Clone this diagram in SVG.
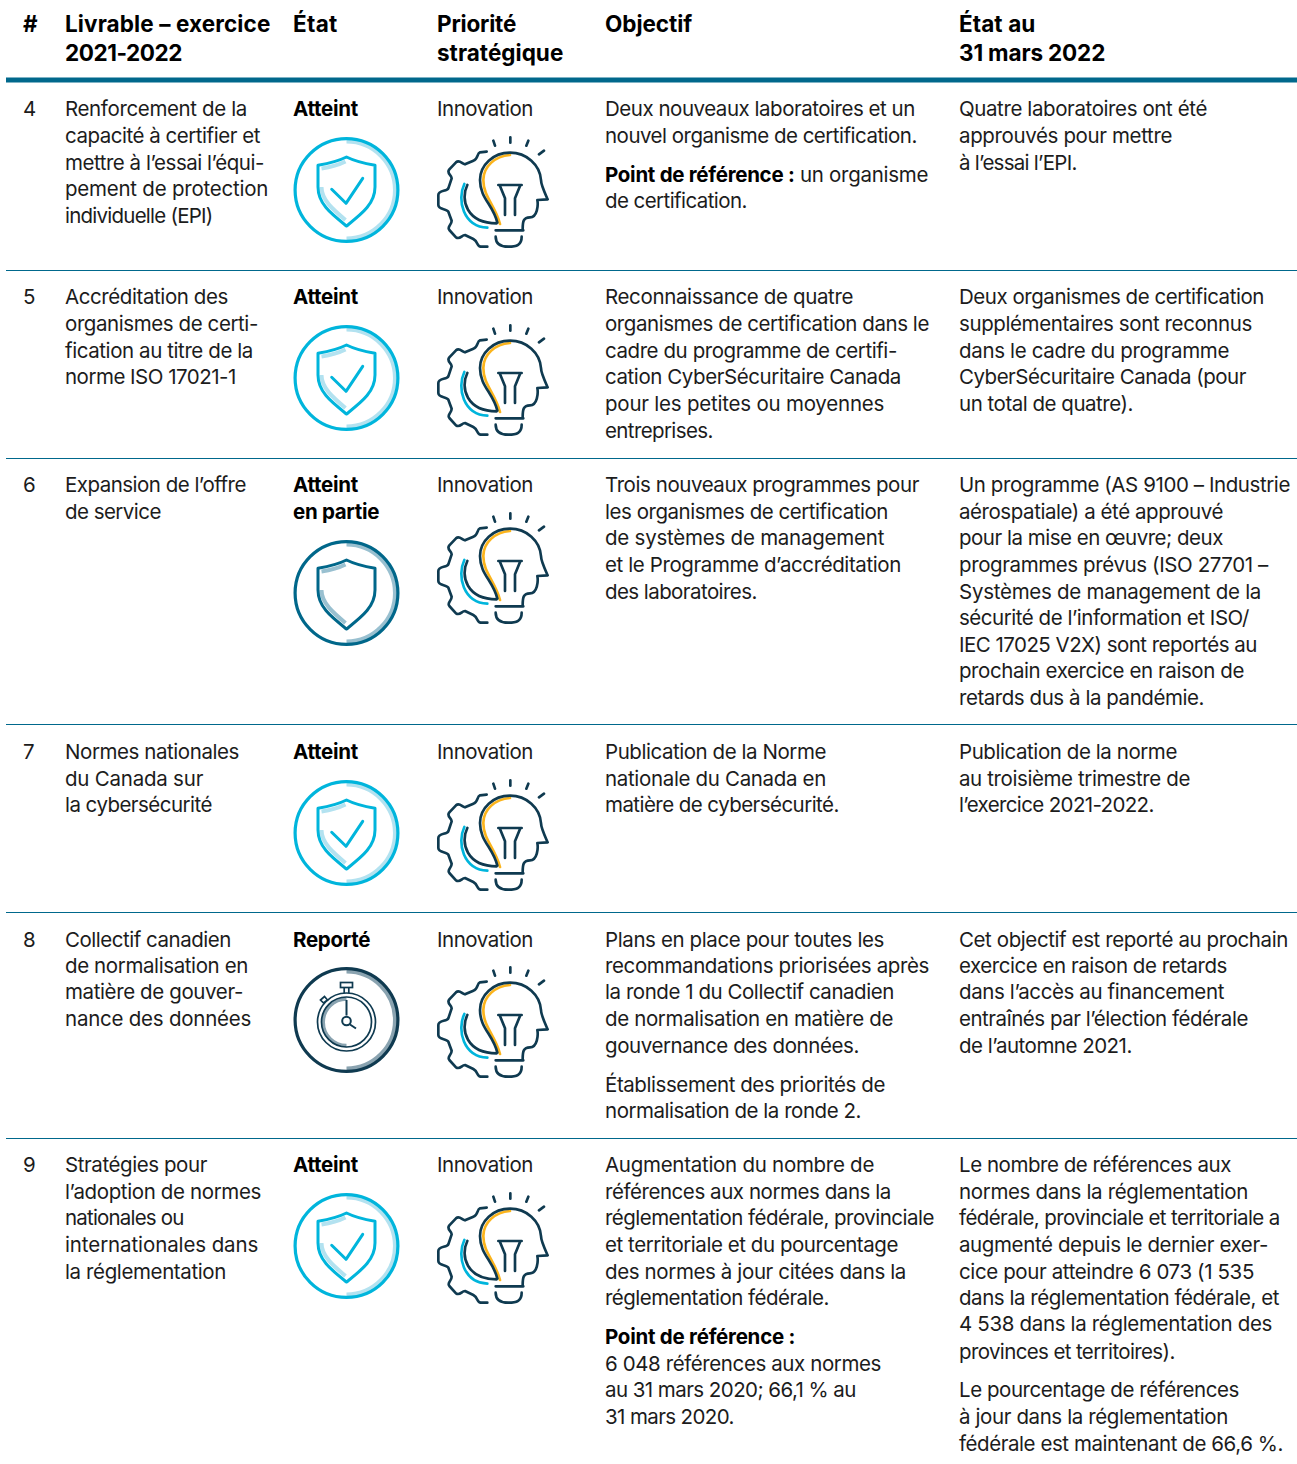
<svg xmlns="http://www.w3.org/2000/svg" width="1297" height="1464" viewBox="0 0 1297 1464">
<style>
text{font-family:Inter,"Liberation Sans",sans-serif;font-size:20.500px;letter-spacing:-.35px;fill:#1c1c1c}
.b{font-weight:700;fill:#000}
.h{font-weight:700;font-size:22.500px;fill:#000;letter-spacing:-.3px}
.rule{stroke:#00688c;stroke-width:1;fill:none}
.f{fill:none;stroke-linecap:round;stroke-linejoin:round}
.n{stroke:#0f3a50;stroke-width:8}
.o{stroke:#fbb41c;stroke-width:8}
.c{stroke:#00b5dc;stroke-width:8}
</style>
<defs>
<g id="ok" stroke="#00b5dc" fill="none">
<path d="M0-48.500A48.500 48.500 0 0 1 0 48.500" stroke="#b3e2f0" stroke-width="4"/>
<circle r="51.400" stroke-width="3.200"/>
<path d="M-25-21.500C-15-23-8-25-1-28.500M-25-3C-25 10-13 20-1 30" stroke="#b3e2f0" stroke-width="4"/>
<path class="f" d="M0-33C-9-28.500-18-26.500-28.500-24.700V-3C-28.500 14-15 24 0 36C15 24 28.500 14 28.500-3V-24.700C18-26.500 9-28.500 0-33Z" stroke-width="3"/>
<path class="f" d="M-14.800-.7L-.5 13.300L16.200-11.700" stroke-width="3"/>
</g>
<g id="partial" stroke="#00678a" fill="none">
<path d="M0-48.500A48.500 48.500 0 0 1 0 48.500" stroke="#99c0d0" stroke-width="4"/>
<circle r="51.400" stroke-width="3.200"/>
<path d="M-25-21.500C-15-23-8-25-1-28.500M-25-3C-25 10-13 20-1 30" stroke="#99c0d0" stroke-width="4"/>
<path class="f" d="M0-33C-9-28.500-18-26.500-28.500-24.700V-3C-28.500 14-15 24 0 36C15 24 28.500 14 28.500-3V-24.700C18-26.500 9-28.500 0-33Z" stroke-width="3"/>
</g>
<g id="watch" stroke="#0f3a50" fill="none">
<path d="M0-48.500A48.500 48.500 0 0 1 0 48.500" stroke="#8aa3b0" stroke-width="4"/>
<circle r="51.400" stroke-width="3.200"/>
<path d="M0 25.500A23 23 0 0 1 0-21" stroke="#8aa3b0" stroke-width="3.500"/>
<circle cy="2" r="29" stroke-width="1.700"/>
<circle cy="2" r="25" stroke-width="1.700"/>
<rect x="-6" y="-37.500" width="12" height="5" stroke-width="1.700"/>
<path d="M-2.300-32.500V-27M2.300-32.500V-27M-26-20L-22-23.500L-19-20L-23-17Z" stroke-width="1.700"/>
<path d="M0-20V-4.500M3.500 4.500L9.500 8.500" stroke-width="2"/>
<circle cy="1" r="4.300" stroke-width="2"/>
</g>
<g id="bulb" transform="scale(.33333)">
<path class="f o" d="M240 75C195 78 160 110 160 150C160 200 195 225 210 282"/>
<path class="f c" d="M103 162C80 210 100 290 172 293"/>
<path class="f n" d="M240 68C190 68 150 105 150 150C150 205 190 225 202 278M240 68C290 68 330 105 333 150C333 165 345 190 353 208L322 210C325 225 322 262 300 262C280 262 278 275 278 298M197 301H280M197 320C197 345 215 350 235 350C260 350 275 345 275 320M205 165H275M210 168L225 205V255M270 168L255 205V255M190 32L195 47M241 22V38M295 32L289 47M342 62L327 73M170 65L150 67C140 70 145 88 130 92L105 103C95 100 88 88 78 97L58 118C48 130 65 135 65 145L55 175C50 185 25 180 25 195V225C25 240 50 235 55 245L65 272C65 285 50 290 58 300L78 322C90 330 95 315 105 315L130 327C145 335 140 350 152 350H172M112 165C90 210 110 280 200 280"/>
</g>
</defs>
<rect width="1297" height="1464" fill="#fff"/>
<g id="header">
<text class="h" x="23" y="32">#</text>
<text class="h" x="65" y="32" textLength="205">Livrable – exercice</text><text class="h" x="65" y="61" textLength="117">2021-2022</text>
<text class="h" x="293" y="32" textLength="44">État</text>
<text class="h" x="437" y="32" textLength="79">Priorité</text><text class="h" x="437" y="61" textLength="126">stratégique</text>
<text class="h" x="605" y="32" textLength="87">Objectif</text>
<text class="h" x="959" y="32" textLength="76">État au</text><text class="h" x="959" y="61" textLength="146">31 mars 2022</text>
<rect x="6" y="77.500" width="1291" height="5" fill="#00688c"/>
</g>
<g id="rules">
<path class="rule" d="M6 270.500H1297M6 458.500H1297M6 724.500H1297M6 912.500H1297M6 1138.500H1297"/>
</g>
<g id="row4">
<text x="23" y="116">4</text>
<text x="65" y="116" textLength="182">Renforcement de la</text><text x="65" y="143" textLength="195">capacité à certifier et</text><text x="65" y="170" textLength="199">mettre à l’essai l’équi-</text><text x="65" y="196" textLength="203">pement de protection</text><text x="65" y="223" textLength="148">individuelle (EPI)</text>
<text class="b" x="293" y="116" textLength="65">Atteint</text>
<use href="#ok" x="346.500" y="190"/>
<text x="437" y="116" textLength="96">Innovation</text>
<use href="#bulb" transform="translate(430 130)"/>
<text x="605" y="116" textLength="310">Deux nouveaux laboratoires et un</text><text x="605" y="143" textLength="312">nouvel organisme de certification.</text>
<text x="605" y="182" textLength="323"><tspan class="b">Point de référence :</tspan> un organisme</text><text x="605" y="208" textLength="142">de certification.</text>
<text x="959" y="116" textLength="248">Quatre laboratoires ont été</text><text x="959" y="143" textLength="213">approuvés pour mettre</text><text x="959" y="170" textLength="118">à l’essai l’EPI.</text>
</g>
<g id="row5">
<text x="23" y="304">5</text>
<text x="65" y="304" textLength="163">Accréditation des</text><text x="65" y="331" textLength="193">organismes de certi-</text><text x="65" y="358" textLength="188">fication au titre de la</text><text x="65" y="384" textLength="171">norme ISO 17021-1</text>
<text class="b" x="293" y="304" textLength="65">Atteint</text>
<use href="#ok" x="346.500" y="378"/>
<text x="437" y="304" textLength="96">Innovation</text>
<use href="#bulb" transform="translate(430 318)"/>
<text x="605" y="304" textLength="248">Reconnaissance de quatre</text><text x="605" y="331" textLength="324">organismes de certification dans le</text><text x="605" y="358" textLength="292">cadre du programme de certifi-</text><text x="605" y="384" textLength="296">cation CyberSécuritaire Canada</text><text x="605" y="411" textLength="279">pour les petites ou moyennes</text><text x="605" y="438" textLength="108">entreprises.</text>
<text x="959" y="304" textLength="305">Deux organismes de certification</text><text x="959" y="331" textLength="293">supplémentaires sont reconnus</text><text x="959" y="358" textLength="270">dans le cadre du programme</text><text x="959" y="384" textLength="287">CyberSécuritaire Canada (pour</text><text x="959" y="411" textLength="174">un total de quatre).</text>
</g>
<g id="row6">
<text x="23" y="492">6</text>
<text x="65" y="492" textLength="181">Expansion de l’offre</text><text x="65" y="519" textLength="96">de service</text>
<text class="b" x="293" y="492" textLength="65">Atteint</text><text class="b" x="293" y="519" textLength="86">en partie</text>
<use href="#partial" x="346.500" y="593"/>
<text x="437" y="492" textLength="96">Innovation</text>
<use href="#bulb" transform="translate(430 506)"/>
<text x="605" y="492" textLength="314">Trois nouveaux programmes pour</text><text x="605" y="519" textLength="283">les organismes de certification</text><text x="605" y="545" textLength="279">de systèmes de management</text><text x="605" y="572" textLength="296">et le Programme d’accréditation</text><text x="605" y="599" textLength="152">des laboratoires.</text>
<text x="959" y="492" textLength="331">Un programme (AS 9100 – Industrie</text><text x="959" y="519" textLength="264">aérospatiale) a été approuvé</text><text x="959" y="545" textLength="264">pour la mise en œuvre; deux</text><text x="959" y="572" textLength="309">programmes prévus (ISO 27701 –</text><text x="959" y="599" textLength="302">Systèmes de management de la</text><text x="959" y="625" textLength="290">sécurité de l’information et ISO/</text><text x="959" y="652" textLength="298">IEC 17025 V2X) sont reportés au</text><text x="959" y="678" textLength="285">prochain exercice en raison de</text><text x="959" y="705" textLength="245">retards dus à la pandémie.</text>
</g>
<g id="row7">
<text x="23" y="759">7</text>
<text x="65" y="759" textLength="174">Normes nationales</text><text x="65" y="786" textLength="138">du Canada sur</text><text x="65" y="812" textLength="147">la cybersécurité</text>
<text class="b" x="293" y="759" textLength="65">Atteint</text>
<use href="#ok" x="346.500" y="833"/>
<text x="437" y="759" textLength="96">Innovation</text>
<use href="#bulb" transform="translate(430 773)"/>
<text x="605" y="759" textLength="221">Publication de la Norme</text><text x="605" y="786" textLength="221">nationale du Canada en</text><text x="605" y="812" textLength="234">matière de cybersécurité.</text>
<text x="959" y="759" textLength="218">Publication de la norme</text><text x="959" y="786" textLength="231">au troisième trimestre de</text><text x="959" y="812" textLength="195">l’exercice 2021-2022.</text>
</g>
<g id="row8">
<text x="23" y="947">8</text>
<text x="65" y="947" textLength="166">Collectif canadien</text><text x="65" y="973" textLength="183">de normalisation en</text><text x="65" y="999" textLength="178">matière de gouver-</text><text x="65" y="1026" textLength="186">nance des données</text>
<text class="b" x="293" y="947" textLength="77">Reporté</text>
<use href="#watch" x="346.500" y="1020"/>
<text x="437" y="947" textLength="96">Innovation</text>
<use href="#bulb" transform="translate(430 960)"/>
<text x="605" y="947" textLength="279">Plans en place pour toutes les</text><text x="605" y="973" textLength="324">recommandations priorisées après</text><text x="605" y="999" textLength="289">la ronde 1 du Collectif canadien</text><text x="605" y="1026" textLength="288">de normalisation en matière de</text><text x="605" y="1053" textLength="254">gouvernance des données.</text>
<text x="605" y="1092" textLength="280">Établissement des priorités de</text><text x="605" y="1118" textLength="256">normalisation de la ronde 2.</text>
<text x="959" y="947" textLength="329">Cet objectif est reporté au prochain</text><text x="959" y="973" textLength="268">exercice en raison de retards</text><text x="959" y="999" textLength="265">dans l’accès au financement</text><text x="959" y="1026" textLength="289">entraînés par l’élection fédérale</text><text x="959" y="1053" textLength="173">de l’automne 2021.</text>
</g>
<g id="row9">
<text x="23" y="1172">9</text>
<text x="65" y="1172" textLength="142">Stratégies pour</text><text x="65" y="1199" textLength="196">l’adoption de normes</text><text x="65" y="1225" textLength="119">nationales ou</text><text x="65" y="1252" textLength="193">internationales dans</text><text x="65" y="1279" textLength="161">la réglementation</text>
<text class="b" x="293" y="1172" textLength="65">Atteint</text>
<use href="#ok" x="346.500" y="1246"/>
<text x="437" y="1172" textLength="96">Innovation</text>
<use href="#bulb" transform="translate(430 1186)"/>
<text x="605" y="1172" textLength="269">Augmentation du nombre de</text><text x="605" y="1199" textLength="286">références aux normes dans la</text><text x="605" y="1225" textLength="329">réglementation fédérale, provinciale</text><text x="605" y="1252" textLength="293">et territoriale et du pourcentage</text><text x="605" y="1279" textLength="301">des normes à jour citées dans la</text><text x="605" y="1305" textLength="224">réglementation fédérale.</text>
<text class="b" x="605" y="1344" textLength="190">Point de référence :</text><text x="605" y="1371" textLength="276">6 048 références aux normes</text><text x="605" y="1397" textLength="251">au 31 mars 2020; 66,1 % au</text><text x="605" y="1424" textLength="129">31 mars 2020.</text>
<text x="959" y="1172" textLength="272">Le nombre de références aux</text><text x="959" y="1199" textLength="289">normes dans la réglementation</text><text x="959" y="1225" textLength="321">fédérale, provinciale et territoriale a</text><text x="959" y="1252" textLength="309">augmenté depuis le dernier exer-</text><text x="959" y="1279" textLength="295">cice pour atteindre 6 073 (1 535</text><text x="959" y="1305" textLength="320">dans la réglementation fédérale, et</text><text x="959" y="1331" textLength="313">4 538 dans la réglementation des</text><text x="959" y="1359" textLength="216">provinces et territoires).</text>
<text x="959" y="1397" textLength="280">Le pourcentage de références</text><text x="959" y="1424" textLength="269">à jour dans la réglementation</text><text x="959" y="1451" textLength="324">fédérale est maintenant de 66,6 %.</text>
</g>
</svg>
